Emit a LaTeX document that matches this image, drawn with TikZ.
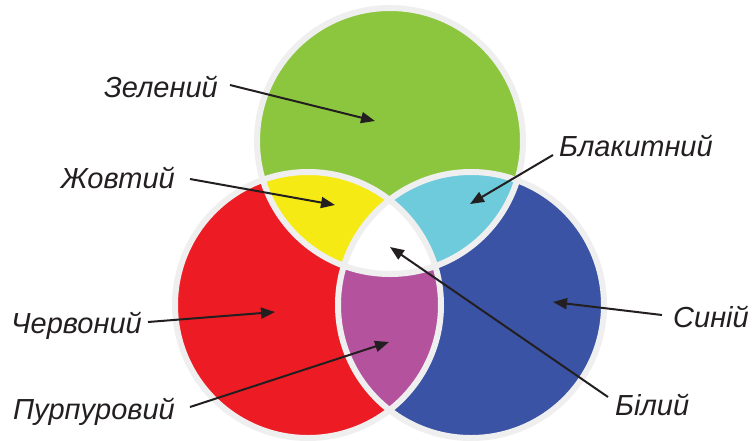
\documentclass[tikz,border=0pt]{standalone}
\usepackage{fontspec}
\setmainfont{Liberation Sans}
\usetikzlibrary{arrows.meta}
\definecolor{cgreen}{HTML}{8CC63F}
\definecolor{cred}{HTML}{ED1C24}
\definecolor{cblue}{HTML}{3A53A4}
\definecolor{cyellow}{HTML}{F5EA14}
\definecolor{ccyan}{HTML}{6DCBDC}
\definecolor{cpurple}{HTML}{B5529E}
\definecolor{crim}{HTML}{EFEFEF}
\definecolor{cink}{HTML}{231F20}
\tikzset{
  lbl/.style={inner sep=0pt, text=cink, font=\fontsize{29}{34}\selectfont\itshape},
  arr/.style={draw=cink, line width=2pt, -{Triangle[length=14pt,width=11pt]}},
  rim/.style={draw=crim, line width=6pt}
}
\begin{document}
\begin{tikzpicture}[x=1pt,y=-1pt]
\useasboundingbox (0,0) rectangle (753,440);
\def\R{133}
\coordinate (G) at (390,141);
\coordinate (Rd) at (308,305);
\coordinate (B) at (471,305);
% base fills
\fill[cred] (Rd) circle (\R);
\fill[cblue] (B) circle (\R);
\fill[cgreen] (G) circle (\R);
% pairwise intersections
\begin{scope}
  \clip (G) circle (\R);
  \fill[cyellow] (Rd) circle (\R);
  \fill[ccyan] (B) circle (\R);
\end{scope}
\begin{scope}
  \clip (Rd) circle (\R);
  \fill[cpurple] (B) circle (\R);
  \clip (B) circle (\R);
  \fill[white] (G) circle (\R);
\end{scope}
% rims
\draw[rim] (G) circle (\R);
\draw[rim] (Rd) circle (\R);
\draw[rim] (B) circle (\R);
% labels
\node[lbl, anchor=base east] (zel) at (218,97) {Зелений};
\node[lbl, anchor=base east] (zhov) at (175,188) {Жовтий};
\node[lbl, anchor=base east] (cherv) at (142,333) {Червоний};
\node[lbl, anchor=base east] (purp) at (175,419) {Пурпуровий};
\node[lbl, anchor=base west] (blak) at (559,156) {Блакитний};
\node[lbl, anchor=base west] (syn) at (673,327) {Синій};
\node[lbl, anchor=base west] (bil) at (615,415) {Білий};
% arrow targets
\coordinate (zelT) at (375,121);
\coordinate (zhovT) at (335,205);
\coordinate (chervT) at (275,312);
\coordinate (purpT) at (389,342);
\coordinate (blakT) at (470,204);
\coordinate (synT) at (553,302);
\coordinate (bilT) at (390,247);
% arrows
\draw[arr] ([shift={(12,-12)}]zel.base east) -- (zelT);
\draw[arr] ([shift={(15,-9)}]zhov.base east) -- (zhovT);
\draw[arr] ([shift={(6,-11)}]cherv.base east) -- (chervT);
\draw[arr] ([shift={(15,-12)}]purp.base east) -- (purpT);
\draw[arr] ([shift={(-6,-1)}]blak.base west) -- (blakT);
\draw[arr] ([shift={(-11,-12)}]syn.base west) -- (synT);
\draw[arr] ([shift={(-7,-18)}]bil.base west) -- (bilT);
\end{tikzpicture}
\end{document}
